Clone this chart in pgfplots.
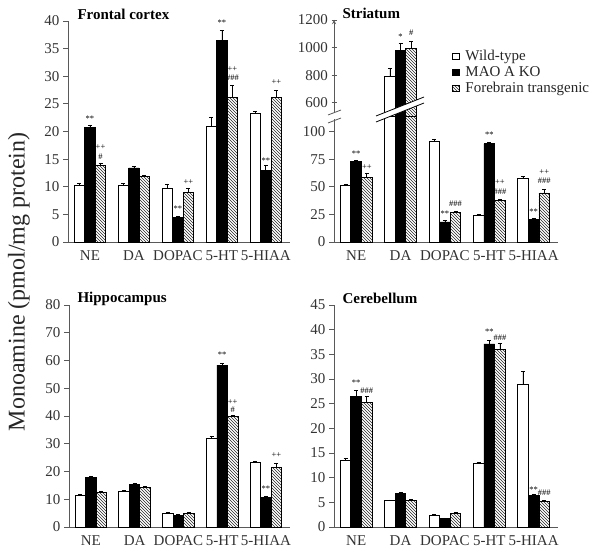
\documentclass[border=0pt]{standalone}
\usepackage{pgfplots}
\pgfplotsset{compat=1.18}
\usetikzlibrary{patterns}
\usepackage{fontspec}
\setmainfont{Liberation Serif}

\pgfplotsset{
  panel/.style={
    scale only axis,
    clip mode=individual,
    axis lines=left,
    axis line style={-, black!65, line width=0.9pt},
    xmin=-0.5, xmax=4.55,
    ymin=0,
    xtick={0,1,2,3,4},
    xticklabels={NE,DA,DOPAC,5-HT,5-HIAA},
    x tick style={draw=none},
    y tick style={black!65, line width=0.9pt},
    tick align=outside,
    major tick length=5pt,
    tick label style={font=\fontsize{15}{15}\selectfont, text=black!80},
    /pgf/number format/assume math mode=true,
    /pgf/number format/1000 sep={},
    ybar, bar width=0.24, bar shift=0pt,
  },
  errbars/.style={
    /pgfplots/error bars/y dir=plus,
    /pgfplots/error bars/y explicit,
    /pgfplots/error bars/error bar style={line width=0.7pt, black},
    /pgfplots/error bars/error mark options={rotate=90, mark size=2pt, line width=0.7pt, black},
  },
  wt/.style={draw=black, fill=white, line width=0.8pt, errbars},
  ko/.style={draw=black, fill=black, line width=0.8pt, errbars},
  ft/.style={draw=black, pattern=north west lines, pattern color=black!85, line width=0.8pt, errbars},
}
\tikzset{ann/.style={font=\fontsize{8.5}{8.5}\selectfont, inner sep=0pt}}

\begin{document}
\begin{tikzpicture}
\path[use as bounding box] (0pt,0pt) rectangle (601pt,555pt);

% ---------------- Frontal cortex ----------------
\begin{axis}[panel, at={(68pt,313pt)}, anchor=south west,
  width=222pt, height=221pt, ymax=40, ytick={0,5,...,40}]
\addplot[wt] coordinates {(-0.24,10.3)+-(0,0.4) (0.76,10.3)+-(0,0.3) (1.76,9.7)+-(0,0.8) (2.76,20.9)+-(0,1.6) (3.76,23.3)+-(0,0.4)};
\addplot[ko] coordinates {(0,20.7)+-(0,0.5) (1,13.4)+-(0,0.3) (2,4.4)+-(0,0.3) (3,36.4)+-(0,1.9) (4,12.9)+-(0,1.0)};
\addplot[ft] coordinates {(0.24,13.9)+-(0,0.4) (1.24,11.8)+-(0,0.3) (2.24,8.9)+-(0,0.9) (3.24,26.2)+-(0,2.2) (4.24,26.1)+-(0,1.3)};
\node[ann] at (axis cs:0,22.4) {**};
\node[ann] at (axis cs:0.24,17.2) {++};
\node[ann] at (axis cs:0.24,15.4) {\#};
\node[ann] at (axis cs:2,6.0) {**};
\node[ann] at (axis cs:2.24,10.9) {++};
\node[ann] at (axis cs:3,39.6) {**};
\node[ann] at (axis cs:3.24,31.3) {++};
\node[ann] at (axis cs:3.24,29.7) {\#\#\#};
\node[ann] at (axis cs:4,14.8) {**};
\node[ann] at (axis cs:4.24,29.0) {++};
\end{axis}

% ---------------- Striatum (lower part) ----------------
\begin{axis}[panel, at={(334pt,313pt)}, anchor=south west,
  width=224pt, height=125.5pt, ymax=113.8, ytick={0,25,50,75,100}]
\addplot[wt] coordinates {(-0.24,51.2)+-(0,1.5) (0.76,794)+-(0,56) (1.76,90.9)+-(0,2.5) (2.76,23.8)+-(0,1) (3.76,57.6)+-(0,2)};
\addplot[ko] coordinates {(0,72.7)+-(0,1.5) (1,983)+-(0,49) (2,18.2)+-(0,1.2) (3,89)+-(0,1) (4,20.3)+-(0,1)};
\addplot[ft] coordinates {(0.24,58.5)+-(0,4) (1.24,995)+-(0,49) (2.24,26.7)+-(0,1) (3.24,37.3)+-(0,1) (4.24,44.5)+-(0,3.5)};
\node[ann] at (axis cs:0,79.7) {**};
\node[ann] at (axis cs:0.24,67.6) {++};
\node[ann] at (axis cs:2,25.8) {**};
\node[ann] at (axis cs:2.24,34.9) {\#\#\#};
\node[ann] at (axis cs:3,97) {**};
\node[ann] at (axis cs:3.24,54.5) {++};
\node[ann] at (axis cs:3.24,45.5) {\#\#\#};
\node[ann] at (axis cs:4,27.3) {**};
\node[ann] at (axis cs:4.24,63.6) {++};
\node[ann] at (axis cs:4.24,55.2) {\#\#\#};
\end{axis}

% ---------------- Striatum (upper part) ----------------
\begin{axis}[panel, axis x line=none, axis y line=left,
  at={(334pt,438.5pt)}, anchor=south west,
  width=224pt, height=96.5pt, ymin=500, ymax=1200, ytick={600,800,1000,1200},
  legend style={at={(axis description cs:0.527,0.70)}, anchor=north west,
    draw=none, fill=none, inner sep=0pt, row sep=2.5pt, column sep=5pt,
    font=\fontsize{15}{17}\selectfont,
    nodes={inner sep=1pt, text=black!85}},
  legend cell align=left,
  legend image code/.code={\draw[#1, line width=0.7pt] (0pt,-3.2pt) rectangle (6.5pt,3.2pt);}]
\addplot[wt] coordinates {(0.76,794)+-(0,56)};
\addplot[ko] coordinates {(1,983)+-(0,49)};
\addplot[ft] coordinates {(1.24,995)+-(0,49)};
\node[ann] at (axis cs:1,1076) {*};
\node[ann] at (axis cs:1.24,1105) {\#};
\legend{Wild-type, MAO A KO, Forebrain transgenic}
\end{axis}

% break marks
\fill[white] (376pt,433pt) -- (424pt,452pt) -- (424pt,458pt) -- (376pt,439pt) -- cycle;
\draw[black, line width=0.8pt] (376pt,433pt) -- (424pt,452pt);
\draw[black, line width=0.8pt] (376pt,439pt) -- (424pt,458pt);
\fill[white] (331.5pt,435.5pt) rectangle (336.5pt,441.5pt);
\draw[black!65, line width=0.8pt] (328pt,432pt) -- (341pt,437pt);
\draw[black!65, line width=0.8pt] (328pt,440pt) -- (341pt,445pt);

% ---------------- Hippocampus ----------------
\begin{axis}[panel, at={(69pt,28pt)}, anchor=south west,
  width=221pt, height=222pt, ymax=80, ytick={0,10,...,80}]
\addplot[wt] coordinates {(-0.24,11.4)+-(0,0.4) (0.76,12.8)+-(0,0.5) (1.76,4.8)+-(0,0.4) (2.76,31.9)+-(0,0.7) (3.76,23.4)+-(0,0.4)};
\addplot[ko] coordinates {(0,18.0)+-(0,0.4) (1,15.4)+-(0,0.5) (2,4.2)+-(0,0.3) (3,58.3)+-(0,0.5) (4,10.6)+-(0,0.6)};
\addplot[ft] coordinates {(0.24,12.4)+-(0,0.6) (1.24,14.2)+-(0,0.4) (2.24,4.8)+-(0,0.4) (3.24,39.7)+-(0,0.5) (4.24,21.3)+-(0,1.7)};
\node[ann] at (axis cs:3,62.0) {**};
\node[ann] at (axis cs:3.24,45.1) {++};
\node[ann] at (axis cs:3.24,42.4) {\#};
\node[ann] at (axis cs:4,13.9) {**};
\node[ann] at (axis cs:4.24,25.9) {++};
\end{axis}

% ---------------- Cerebellum ----------------
\begin{axis}[panel, at={(334pt,28pt)}, anchor=south west,
  width=224pt, height=222pt, ymax=45, ytick={0,5,...,45}]
\addplot[wt] coordinates {(-0.24,13.4)+-(0,0.6) (0.76,5.3)+-(0,0.2) (1.76,2.3)+-(0,0.2) (2.76,12.9)+-(0,0.3) (3.76,29.0)+-(0,2.5)};
\addplot[ko] coordinates {(0,26.4)+-(0,1.2) (1,6.8)+-(0,0.2) (2,1.7)+-(0,0.15) (3,37.1)+-(0,0.8) (4,6.4)+-(0,0.3)};
\addplot[ft] coordinates {(0.24,25.3)+-(0,1.2) (1.24,5.3)+-(0,0.3) (2.24,2.7)+-(0,0.2) (3.24,36.0)+-(0,1.3) (4.24,5.2)+-(0,0.2)};
\node[ann] at (axis cs:0,29.2) {**};
\node[ann] at (axis cs:0.24,27.7) {\#\#\#};
\node[ann] at (axis cs:3,39.6) {**};
\node[ann] at (axis cs:3.24,38.4) {\#\#\#};
\node[ann] at (axis cs:4,7.6) {**};
\node[ann] at (axis cs:4.24,7.0) {\#\#\#};
\end{axis}

% titles
\node[anchor=west, font=\bfseries\fontsize{15}{15}\selectfont] at (74pt,541pt) {Frontal cortex};
\node[anchor=west, font=\bfseries\fontsize{15}{15}\selectfont] at (339pt,541.5pt) {Striatum};
\node[anchor=west, font=\bfseries\fontsize{15}{15}\selectfont] at (74pt,256.5pt) {Hippocampus};
\node[anchor=west, font=\bfseries\fontsize{15}{15}\selectfont] at (339pt,256.5pt) {Cerebellum};

% y label
\node[rotate=90, font=\fontsize{24}{24}\selectfont, text=black!85] at (19pt,273pt) {Monoamine (pmol/mg protein)};
\end{tikzpicture}
\end{document}
